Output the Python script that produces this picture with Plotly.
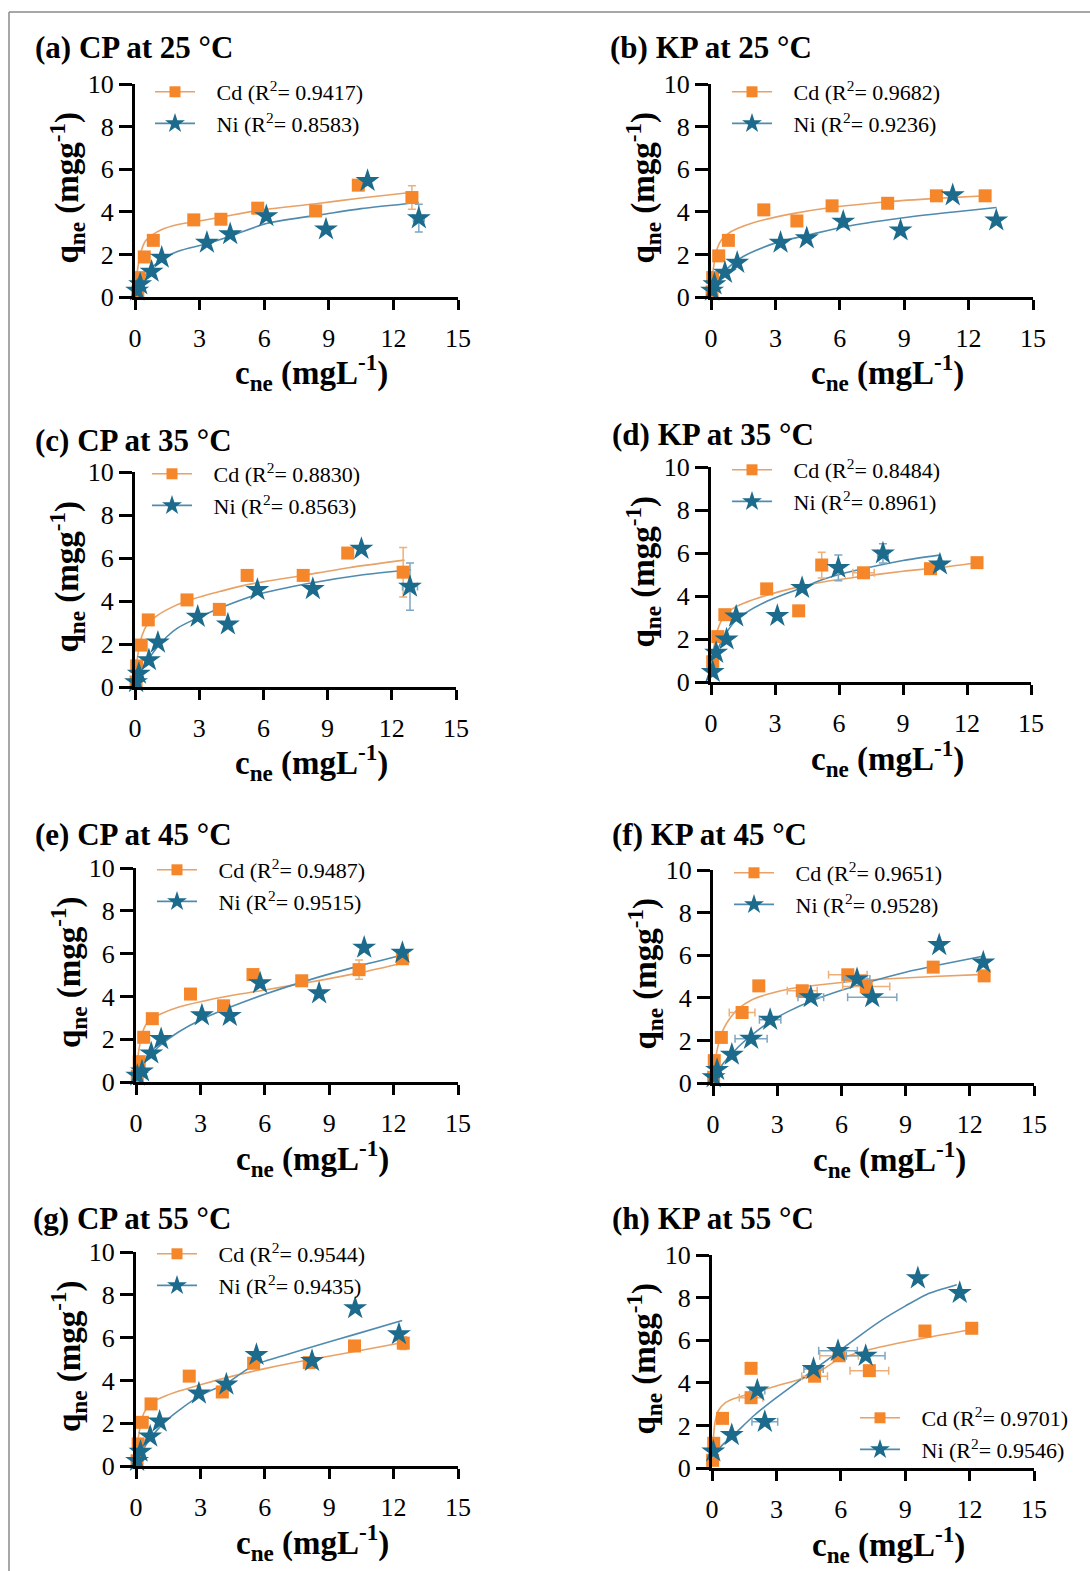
import plotly.graph_objects as go

W, H = 1090, 1571
FONT = "Liberation Serif"

# ---------------- text ----------------
PANEL_TITLES = ["(a) CP at 25 °C", "(b) KP at 25 °C", "(c) CP at 35 °C", "(d) KP at 35 °C",
                "(e) CP at 45 °C", "(f) KP at 45 °C", "(g) CP at 55 °C", "(h) KP at 55 °C"]
CD_R2 = ["0.9417", "0.9682", "0.8830", "0.8484", "0.9487", "0.9651", "0.9544", "0.9701"]
NI_R2 = ["0.8583", "0.9236", "0.8563", "0.8961", "0.9515", "0.9528", "0.9435", "0.9546"]
X_TICKS = [0, 3, 6, 9, 12, 15]
Y_TICKS = [0, 2, 4, 6, 8, 10]

# ---------------- data: (a) CP 25 ----------------
A_CD_X = [0.13, 0.19, 0.43, 0.85, 2.73, 3.99, 5.70, 8.39, 10.37, 12.86]
A_CD_Y = [0.24, 0.91, 1.88, 2.66, 3.62, 3.65, 4.17, 4.04, 5.25, 4.67]
A_CD_EX = [0, 0, 0, 0, 0, 0, 0, 0, 0, 0]
A_CD_EY = [0, 0, 0, 0, 0, 0, 0, 0, 0, 0.55]
A_NI_X = [0.10, 0.24, 0.77, 1.24, 3.34, 4.42, 6.10, 8.87, 10.80, 13.18]
A_NI_Y = [0.30, 0.60, 1.19, 1.85, 2.55, 2.95, 3.80, 3.18, 5.45, 3.70]
A_NI_EX = [0, 0, 0, 0, 0, 0, 0, 0, 0, 0.25]
A_NI_EY = [0, 0, 0, 0, 0, 0, 0, 0, 0, 0.65]
A_CD_FX = [0, 0.05, 0.15, 0.3, 0.5, 0.8, 1.2, 2, 2.7, 4, 5.7, 8.4, 10.5, 12.9]
A_CD_FY = [0.1, 0.7, 1.5, 2.2, 2.65, 2.92, 3.15, 3.4, 3.52, 3.75, 4.07, 4.38, 4.65, 4.92]
A_NI_FX = [0, 0.2, 0.5, 0.8, 1.24, 2, 3.34, 4.42, 6.1, 8.87, 10.5, 13.18]
A_NI_FY = [0, 0.55, 1.05, 1.4, 1.77, 2.15, 2.5, 2.85, 3.45, 3.9, 4.15, 4.44]

# ---------------- data: (b) KP 25 ----------------
B_CD_X = [0.05, 0.08, 0.36, 0.81, 2.46, 4.00, 5.64, 8.23, 10.50, 12.77]
B_CD_Y = [0.24, 0.91, 1.93, 2.66, 4.09, 3.57, 4.28, 4.40, 4.75, 4.75]
B_CD_EX = [0, 0, 0, 0, 0, 0, 0, 0, 0, 0]
B_CD_EY = [0, 0, 0, 0, 0, 0, 0, 0, 0.15, 0]
B_NI_X = [0.05, 0.16, 0.65, 1.22, 3.24, 4.46, 6.16, 8.83, 11.26, 13.29]
B_NI_Y = [0.30, 0.60, 1.14, 1.61, 2.55, 2.76, 3.54, 3.13, 4.78, 3.60]
B_NI_EX = [0, 0, 0, 0, 0, 0, 0, 0, 0, 0]
B_NI_EY = [0, 0, 0, 0, 0, 0, 0, 0, 0, 0]
B_CD_FX = [0, 0.05, 0.15, 0.3, 0.5, 0.8, 1.2, 2, 3, 4, 5.6, 8.2, 10.5, 12.8]
B_CD_FY = [0.1, 0.8, 1.6, 2.3, 2.7, 2.98, 3.2, 3.5, 3.75, 3.95, 4.2, 4.47, 4.63, 4.75]
B_NI_FX = [0, 0.2, 0.5, 1, 1.5, 2, 3.2, 4.5, 6.2, 8.8, 11.2, 13.3]
B_NI_FY = [0, 0.55, 1.05, 1.55, 1.9, 2.15, 2.6, 2.9, 3.3, 3.7, 3.98, 4.2]

# ---------------- data: (c) CP 35 ----------------
C_CD_X = [0.05, 0.08, 0.29, 0.62, 2.43, 3.94, 5.24, 7.86, 9.94, 12.53]
C_CD_Y = [0.23, 0.98, 1.95, 3.12, 4.05, 3.61, 5.19, 5.19, 6.23, 5.34]
C_CD_EX = [0, 0, 0, 0, 0, 0, 0, 0, 0, 0.2]
C_CD_EY = [0, 0, 0, 0, 0, 0, 0, 0, 0, 1.15]
C_NI_X = [0.05, 0.18, 0.65, 1.07, 2.93, 4.34, 5.72, 8.31, 10.58, 12.85]
C_NI_Y = [0.23, 0.62, 1.25, 2.07, 3.27, 2.91, 4.52, 4.56, 6.43, 4.67]
C_NI_EX = [0, 0, 0, 0, 0, 0, 0, 0, 0, 0.35]
C_NI_EY = [0, 0, 0, 0, 0, 0, 0, 0, 0, 1.1]
C_CD_FX = [0, 0.05, 0.15, 0.3, 0.6, 1, 1.5, 2.4, 4, 5.2, 7.9, 10, 12.6]
C_CD_FY = [0.1, 0.8, 1.6, 2.3, 2.95, 3.3, 3.6, 4.0, 4.45, 4.75, 5.2, 5.55, 5.9]
C_NI_FX = [0, 0.2, 0.5, 1, 1.5, 2, 3, 4.3, 5.7, 8.3, 10.5, 12.9]
C_NI_FY = [0, 0.55, 1.1, 1.8, 2.35, 2.75, 3.25, 3.8, 4.3, 4.85, 5.2, 5.45]

# ---------------- data: (d) KP 35 ----------------
D_CD_X = [0.08, 0.32, 0.65, 2.61, 4.11, 5.19, 7.15, 10.29, 12.47]
D_CD_Y = [0.94, 2.11, 3.13, 4.33, 3.31, 5.44, 5.08, 5.27, 5.55]
D_CD_EX = [0, 0, 0, 0, 0, 0.15, 0.5, 0, 0]
D_CD_EY = [0, 0, 0, 0, 0, 0.6, 0, 0.2, 0]
D_NI_X = [0.08, 0.24, 0.73, 1.18, 3.11, 4.27, 5.97, 8.06, 10.73]
D_NI_Y = [0.47, 1.36, 1.98, 3.05, 3.08, 4.38, 5.31, 5.98, 5.47]
D_NI_EX = [0, 0, 0, 0, 0, 0, 0, 0.25, 0]
D_NI_EY = [0, 0, 0, 0, 0, 0, 0.6, 0.45, 0.15]
D_CD_FX = [0.05, 0.15, 0.3, 0.6, 1, 1.5, 2.5, 4, 5.5, 7, 9, 10.5, 12.5]
D_CD_FY = [0.9, 1.7, 2.4, 3.05, 3.4, 3.65, 4.0, 4.4, 4.7, 4.9, 5.15, 5.3, 5.55]
D_NI_FX = [0.05, 0.2, 0.4, 0.7, 1.1, 1.6, 2.5, 3.5, 4.3, 5.2, 6, 7.5, 9, 10.7]
D_NI_FY = [0.55, 1.2, 1.7, 2.25, 2.8, 3.2, 3.7, 4.1, 4.4, 4.75, 5.0, 5.35, 5.65, 5.9]

# ---------------- data: (e) CP 45 ----------------
E_CD_X = [0.06, 0.15, 0.36, 0.76, 2.54, 4.08, 5.45, 7.72, 10.39, 12.41]
E_CD_Y = [0.27, 0.95, 2.09, 2.96, 4.11, 3.56, 5.02, 4.73, 5.25, 5.76]
E_CD_EX = [0, 0, 0, 0, 0, 0, 0, 0, 0, 0]
E_CD_EY = [0, 0, 0, 0, 0, 0, 0, 0, 0.45, 0.2]
E_NI_X = [0.06, 0.28, 0.71, 1.17, 3.07, 4.37, 5.78, 8.53, 10.63, 12.41]
E_NI_Y = [0.30, 0.50, 1.34, 2.01, 3.12, 3.09, 4.62, 4.15, 6.28, 6.04]
E_NI_EX = [0, 0, 0, 0, 0, 0, 0, 0, 0, 0]
E_NI_EY = [0, 0, 0, 0, 0, 0, 0, 0, 0, 0]
E_CD_FX = [0, 0.05, 0.15, 0.3, 0.5, 0.8, 1.2, 2, 3, 4.5, 6, 8, 10.4, 12.6]
E_CD_FY = [0.1, 0.8, 1.6, 2.3, 2.75, 3.0, 3.2, 3.5, 3.75, 4.05, 4.3, 4.65, 5.1, 5.6]
E_NI_FX = [0, 0.2, 0.5, 1, 1.5, 2, 3, 4.4, 6, 8.5, 10.5, 12.6]
E_NI_FY = [0, 0.5, 1.05, 1.6, 2.0, 2.35, 2.9, 3.5, 4.1, 4.9, 5.45, 5.98]

# ---------------- data: (f) KP 45 ----------------
F_CD_X = [0.03, 0.06, 0.39, 1.36, 2.14, 4.17, 6.30, 7.16, 10.29, 12.67]
F_CD_Y = [0.27, 1.05, 2.14, 3.31, 4.56, 4.33, 5.08, 4.53, 5.44, 5.03]
F_CD_EX = [0, 0, 0, 0.6, 0, 0.7, 0.9, 1.1, 0, 0]
F_CD_EY = [0, 0, 0, 0, 0, 0, 0, 0, 0, 0]
F_NI_X = [0.03, 0.19, 0.88, 1.78, 2.67, 4.57, 6.73, 7.44, 10.57, 12.63]
F_NI_Y = [0.27, 0.62, 1.33, 2.08, 2.97, 4.03, 4.88, 4.03, 6.48, 5.66]
F_NI_EX = [0, 0, 0, 0.75, 0.5, 0.6, 0.6, 1.15, 0, 0]
F_NI_EY = [0, 0, 0, 0, 0, 0, 0, 0, 0, 0]
F_CD_FX = [0, 0.1, 0.25, 0.5, 0.8, 1.2, 1.8, 2.5, 3.5, 4.5, 6, 8, 10.3, 12.7]
F_CD_FY = [0.1, 1.0, 1.8, 2.55, 3.05, 3.5, 3.9, 4.15, 4.4, 4.55, 4.72, 4.88, 5.0, 5.1]
F_NI_FX = [0, 0.2, 0.5, 0.9, 1.4, 2, 2.7, 3.5, 4.6, 6, 7.5, 9, 10.6, 12.6]
F_NI_FY = [0, 0.5, 0.95, 1.4, 1.9, 2.4, 2.9, 3.35, 3.85, 4.35, 4.8, 5.2, 5.55, 5.95]

# ---------------- data: (g) CP 55 ----------------
G_CD_X = [0.05, 0.10, 0.29, 0.70, 2.48, 4.02, 5.48, 8.07, 10.18, 12.45]
G_CD_Y = [0.24, 1.03, 2.04, 2.90, 4.20, 3.46, 4.80, 4.83, 5.61, 5.74]
G_CD_EX = [0, 0, 0, 0, 0, 0, 0, 0, 0, 0]
G_CD_EY = [0, 0, 0, 0, 0, 0, 0, 0, 0, 0.3]
G_NI_X = [0.05, 0.21, 0.66, 1.10, 2.93, 4.21, 5.61, 8.20, 10.21, 12.25]
G_NI_Y = [0.24, 0.67, 1.38, 2.08, 3.39, 3.81, 5.19, 4.91, 7.38, 6.16]
G_NI_EX = [0, 0, 0, 0, 0, 0, 0, 0, 0, 0]
G_NI_EY = [0, 0, 0, 0, 0, 0, 0, 0, 0, 0]
G_CD_FX = [0, 0.05, 0.15, 0.3, 0.5, 0.8, 1.2, 2, 3, 4.5, 6, 8, 10.2, 12.5]
G_CD_FY = [0.1, 0.8, 1.6, 2.3, 2.7, 3.0, 3.2, 3.5, 3.8, 4.2, 4.55, 4.95, 5.35, 5.78]
G_NI_FX = [0, 0.2, 0.5, 1, 1.5, 2, 3, 4.2, 5.0, 5.6, 7, 8.5, 10.2, 12.4]
G_NI_FY = [0, 0.5, 1.05, 1.7, 2.2, 2.6, 3.3, 3.85, 4.4, 4.75, 5.2, 5.65, 6.15, 6.8]

# ---------------- data: (h) KP 55 ----------------
H_CD_X = [0.03, 0.08, 0.49, 1.82, 1.82, 4.78, 5.92, 7.33, 9.92, 12.10]
H_CD_Y = [0.36, 1.16, 2.33, 3.30, 4.68, 4.31, 5.27, 4.57, 6.43, 6.56]
H_CD_EX = [0, 0, 0, 0.55, 0, 0.6, 0.9, 0.9, 0, 0]
H_CD_EY = [0, 0, 0, 0, 0, 0, 0, 0, 0, 0]
H_NI_X = [0.06, 0.92, 2.11, 2.46, 4.73, 5.87, 7.16, 9.59, 11.54]
H_NI_Y = [0.78, 1.55, 3.64, 2.17, 4.65, 5.50, 5.27, 8.91, 8.22]
H_NI_EX = [0, 0, 0.35, 0.6, 0.45, 0.9, 0.9, 0, 0]
H_NI_EY = [0, 0, 0, 0, 0, 0, 0, 0, 0]
H_CD_FX = [0, 0.05, 0.15, 0.3, 0.6, 1, 1.8, 3, 4.8, 5.9, 7.5, 9.9, 12.1]
H_CD_FY = [0.1, 1.2, 2.2, 2.7, 3.05, 3.25, 3.5, 3.85, 4.4, 5.1, 5.6, 6.1, 6.5]
H_NI_FX = [0, 0.5, 1, 2, 3, 4, 5, 6, 7, 8, 9, 10, 11.4]
H_NI_FY = [0.5, 1.1, 1.55, 2.5, 3.3, 4.05, 4.8, 5.55, 6.3, 7.0, 7.6, 8.15, 8.6]

PANEL_DATA = [
    (A_CD_X, A_CD_Y, A_CD_EX, A_CD_EY, A_NI_X, A_NI_Y, A_NI_EX, A_NI_EY, A_CD_FX, A_CD_FY, A_NI_FX, A_NI_FY),
    (B_CD_X, B_CD_Y, B_CD_EX, B_CD_EY, B_NI_X, B_NI_Y, B_NI_EX, B_NI_EY, B_CD_FX, B_CD_FY, B_NI_FX, B_NI_FY),
    (C_CD_X, C_CD_Y, C_CD_EX, C_CD_EY, C_NI_X, C_NI_Y, C_NI_EX, C_NI_EY, C_CD_FX, C_CD_FY, C_NI_FX, C_NI_FY),
    (D_CD_X, D_CD_Y, D_CD_EX, D_CD_EY, D_NI_X, D_NI_Y, D_NI_EX, D_NI_EY, D_CD_FX, D_CD_FY, D_NI_FX, D_NI_FY),
    (E_CD_X, E_CD_Y, E_CD_EX, E_CD_EY, E_NI_X, E_NI_Y, E_NI_EX, E_NI_EY, E_CD_FX, E_CD_FY, E_NI_FX, E_NI_FY),
    (F_CD_X, F_CD_Y, F_CD_EX, F_CD_EY, F_NI_X, F_NI_Y, F_NI_EX, F_NI_EY, F_CD_FX, F_CD_FY, F_NI_FX, F_NI_FY),
    (G_CD_X, G_CD_Y, G_CD_EX, G_CD_EY, G_NI_X, G_NI_Y, G_NI_EX, G_NI_EY, G_CD_FX, G_CD_FY, G_NI_FX, G_NI_FY),
    (H_CD_X, H_CD_Y, H_CD_EX, H_CD_EY, H_NI_X, H_NI_Y, H_NI_EX, H_NI_EY, H_CD_FX, H_CD_FY, H_NI_FX, H_NI_FY),
]

# ---------------- layout geometry (pixels) ----------------
# x0 (value 0), x1 (value 15), ytop (value 10), ybot (value 0)
PANEL_BOX = [
    (135, 458, 84, 297), (711, 1033, 84, 297),
    (135, 456, 472, 687), (711, 1031, 467, 682),
    (136, 458, 868, 1082), (713, 1034, 870, 1083),
    (136, 458, 1252, 1466), (712, 1034, 1255, 1468),
]
TITLE_POS = [(33, 48), (608, 48), (33, 440), (610, 434), (33, 834), (610, 834), (31, 1218), (610, 1218)]
# legend: marker x, first row center y
LEGEND_POS = [(175, 92), (752, 92), (172, 474), (752, 470), (177, 870), (754, 873), (177, 1254), (880, 1418)]

ORANGE = "#F5862A"
TEAL = "#1C6B8C"
ORANGE_LINE = "#E9A266"
TEAL_LINE = "#4F8BAE"
ORANGE_ERR = "#EDB07A"
TEAL_ERR = "#7FA7C2"
PAD = "\u00a0\u00a0\u00a0"

fig = go.Figure()
annotations = []
layout_axes = {}


def px(x):
    return x / W


def py(y):
    return 1 - y / H


for i in range(8):
    (cdx, cdy, cdex, cdey, nix, niy, niex, niey, cfx, cfy, nfx, nfy) = PANEL_DATA[i]
    x0, x1, yt, yb = PANEL_BOX[i]
    sfx = "" if i == 0 else str(i + 1)
    xa, ya = "x" + sfx, "y" + sfx
    leg = "legend" + sfx

    # fitted curves
    fig.add_trace(go.Scatter(x=cfx, y=cfy, mode="lines", xaxis=xa, yaxis=ya,
                             line=dict(color=ORANGE_LINE, width=1.6, shape="spline", smoothing=0.7),
                             showlegend=False, hoverinfo="skip", cliponaxis=False))
    fig.add_trace(go.Scatter(x=nfx, y=nfy, mode="lines", xaxis=xa, yaxis=ya,
                             line=dict(color=TEAL_LINE, width=1.6, shape="spline", smoothing=0.7),
                             showlegend=False, hoverinfo="skip", cliponaxis=False))
    # data points
    fig.add_trace(go.Scatter(x=cdx, y=cdy, mode="markers", xaxis=xa, yaxis=ya,
                             marker=dict(symbol="square", size=13, color=ORANGE),
                             error_x=dict(type="data", array=cdex, color=ORANGE_ERR, thickness=1.5, width=4),
                             error_y=dict(type="data", array=cdey, color=ORANGE_ERR, thickness=1.5, width=4),
                             showlegend=False, cliponaxis=False))
    fig.add_trace(go.Scatter(x=nix, y=niy, mode="markers", xaxis=xa, yaxis=ya,
                             marker=dict(symbol="star", size=18, color=TEAL),
                             error_x=dict(type="data", array=niex, color=TEAL_ERR, thickness=1.5, width=4),
                             error_y=dict(type="data", array=niey, color=TEAL_ERR, thickness=1.5, width=4),
                             showlegend=False, cliponaxis=False))
    # legend entries
    fig.add_trace(go.Scatter(x=[None], y=[None], mode="lines+markers", xaxis=xa, yaxis=ya,
                             marker=dict(symbol="square", size=11, color=ORANGE),
                             line=dict(color=ORANGE_LINE, width=1.6),
                             name=PAD + "Cd (R<sup>2</sup>= " + CD_R2[i] + ")", legend=leg,
                             legendgroup="cd" + sfx))
    fig.add_trace(go.Scatter(x=[None], y=[None], mode="lines+markers", xaxis=xa, yaxis=ya,
                             marker=dict(symbol="star", size=15, color=TEAL),
                             line=dict(color=TEAL_LINE, width=1.6),
                             name=PAD + "Ni (R<sup>2</sup>= " + NI_R2[i] + ")", legend=leg,
                             legendgroup="ni" + sfx))

    lx, ly = LEGEND_POS[i]
    layout_axes[leg] = dict(x=px(lx - 25), y=py(ly - 21), xanchor="left", yanchor="top",
                            bgcolor="rgba(0,0,0,0)", font=dict(family=FONT, size=22, color="black"),
                            itemwidth=40, tracegroupgap=0, traceorder="grouped")

    axis_common = dict(showline=True, linewidth=3, linecolor="black", ticks="outside",
                       tickwidth=3, tickcolor="black", showgrid=False, zeroline=False,
                       tickfont=dict(family=FONT, size=26, color="black"))
    layout_axes["xaxis" + sfx] = dict(axis_common, domain=[px(x0), px(x1)], range=[0, 15],
                                      tickvals=X_TICKS, ticklen=10, anchor=ya, ticklabelstandoff=6)
    layout_axes["yaxis" + sfx] = dict(axis_common, domain=[py(yb), py(yt)], range=[0, 10],
                                      tickvals=Y_TICKS, ticklen=13, anchor=xa)

    tx, ty = TITLE_POS[i]
    annotations.append(dict(text="<b>" + PANEL_TITLES[i] + "</b>", x=px(tx), y=py(ty), xref="paper",
                            yref="paper", xanchor="left", yanchor="middle", showarrow=False,
                            font=dict(family=FONT, size=31, color="black")))
    annotations.append(dict(text="<b>c<sub>ne</sub> (mgL<sup>-1</sup>)</b>", x=px(x0 + 176),
                            y=py(yb + 76), xref="paper", yref="paper", xanchor="center",
                            yanchor="middle", showarrow=False,
                            font=dict(family=FONT, size=33, color="black")))
    annotations.append(dict(text="<b>q<sub>ne</sub> (mgg<sup>-1</sup>)</b>", x=px(x0 - 68),
                            y=py((yt + yb) / 2 - 2), xref="paper", yref="paper", xanchor="center",
                            yanchor="middle", textangle=-90, showarrow=False,
                            font=dict(family=FONT, size=33, color="black")))

fig.update_layout(
    width=W, height=H, margin=dict(l=0, r=0, t=0, b=0, autoexpand=False),
    paper_bgcolor="white", plot_bgcolor="white",
    annotations=annotations,
    shapes=[
        dict(type="line", xref="paper", yref="paper", x0=px(9), x1=1, y0=py(12), y1=py(12),
             line=dict(color="#8a8a8a", width=1.5)),
        dict(type="line", xref="paper", yref="paper", x0=px(9), x1=px(9), y0=py(12), y1=0,
             line=dict(color="#8a8a8a", width=1.5)),
    ],
    **layout_axes,
)

fig.write_html("out.html")
